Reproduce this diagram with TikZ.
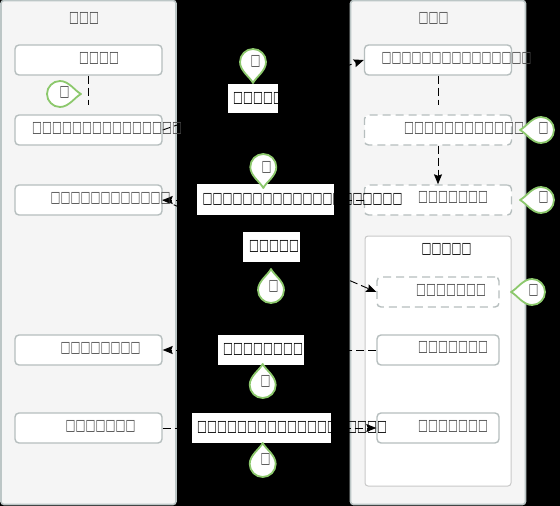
\documentclass[tikz,border=0pt]{standalone}
\usepackage{fontspec}
\usetikzlibrary{arrows.meta}
\newfontfamily\tofuf[FakeStretch=0.67,LetterSpace=0.8]{DejaVu Sans}
\definecolor{lanefill}{HTML}{F5F5F5}
\definecolor{lanedraw}{HTML}{BCC6C6}
\definecolor{boxdraw}{HTML}{B6BEBE}
\definecolor{groupdraw}{HTML}{C8C8C8}
\definecolor{pingreen}{HTML}{8CC86C}
\definecolor{boxtext}{HTML}{4A4A4A}
\tikzset{
  x=1pt,y=-1pt,
  lanebox/.style={draw=lanedraw,fill=lanefill,line width=1.6pt,rounded corners=3pt,minimum width=175pt,minimum height=504pt,inner sep=0pt},
  groupbox/.style={draw=groupdraw,fill=white,line width=1pt,rounded corners=3pt,minimum width=146pt,minimum height=250pt,inner sep=0pt},
  stepbox/.style={draw=boxdraw,fill=white,line width=1.4pt,rounded corners=4pt,minimum width=147pt,minimum height=30pt,inner sep=0pt},
  innerbox/.style={stepbox,minimum width=122pt},
  dashbox/.style={dash pattern=on 8pt off 5pt},
  tofu/.style={font=\tofuf\fontsize{15.6}{15.6}\selectfont,inner sep=0pt,anchor=west,text=boxtext,xshift=1pt,yshift=-1pt},
  tofublack/.style={tofu,text=black},
  labelbox/.style={fill=white,inner sep=0pt},
  flow/.style={draw=black,line width=0.9pt,dash pattern=on 8pt off 4pt},
  flowhead/.style={flow,-{Stealth[length=10pt,width=8pt,inset=1.5pt]}},
  droppin/.pic={
    \path[draw=pingreen,fill=white,line width=1.8pt,line join=round]
      (0,21) .. controls (-3,15) and (-13,9) .. (-13,0)
      arc[start angle=180,end angle=360,radius=13]
      .. controls (13,9) and (3,15) .. (0,21) -- cycle;
  },
  pinmark/.style={font=\tofuf\fontsize{15.6}{15.6}\selectfont,inner sep=0pt,text=boxtext,xshift=0.5pt,yshift=-1pt},
}
\begin{document}
\begin{tikzpicture}
\path[fill=black,use as bounding box] (0,0) rectangle (560,506);
% lanes
\node[lanebox] (laneL) at (88.5,252.5) {};
\node[lanebox] (laneR) at (438,252.5) {};
\node[groupbox] (grp) at (438,361) {};
% boxes
\node[stepbox] (l1) at (88.5,60) {};
\node[stepbox] (l2) at (88.5,130) {};
\node[stepbox] (l3) at (88.5,200) {};
\node[stepbox] (l4) at (88.5,350) {};
\node[stepbox] (l5) at (88.5,428) {};
\node[stepbox] (r1) at (438,60) {};
\node[stepbox,dashbox] (r2) at (438,130) {};
\node[stepbox,dashbox] (r3) at (438,200) {};
\node[innerbox,dashbox] (g1) at (438,292) {};
\node[innerbox] (g2) at (438,350) {};
\node[innerbox] (g3) at (438,428) {};
% connectors
\draw[flow,shorten >=9pt] (l1) -- (l2);
\draw[flow,shorten >=9pt] (r1) -- (r2);
\draw[flowhead] (r2) -- (r3);
\draw[flowhead] (l2.east) -- (r1.west);
\draw[flowhead] (r3.west) -- (l3.east);
\draw[flowhead] (l3.east) -- (g1.west);
\draw[flowhead] (g2.west) -- (l4.east);
\draw[flowhead] (l5.east) -- (g3.west);
% label backgrounds
\node[labelbox,minimum width=50pt,minimum height=29pt] (m1) at (253,98.5) {};
\node[labelbox,minimum width=137pt,minimum height=31pt] (m2) at (265.5,199.5) {};
\node[labelbox,minimum width=57pt,minimum height=30pt] (m3) at (271.5,247) {};
\node[labelbox,minimum width=86pt,minimum height=30pt] (m4) at (261,350) {};
\node[labelbox,minimum width=139pt,minimum height=30pt] (m5) at (261.5,428) {};
% box texts
\node[tofu] (tL) at (68,17) {□□□};
\node[tofu] (t1) at (78,57.5) {□□□□};
\node[tofu] (t2) at (31,127.5) {□□□□□□□□□□□□□□□};
\node[tofu] (t3) at (49.5,197.7) {□□□□□□□□□□□□};
\node[tofu] (t4) at (59.5,347.7) {□□□□□□□□};
\node[tofu] (t5) at (64.5,425.7) {□□□□□□□};
\node[tofu] (tR) at (417.5,17) {□□□};
\node[tofu] (t6) at (380.5,57.5) {□□□□□□□□□□□□□□□};
\node[tofu] (t7) at (403,127) {□□□□□□□□□□□□};
\node[tofu] (t8) at (417,196.7) {□□□□□□□};
\node[tofublack] (tG) at (420.5,248.7) {□□□□□};
\node[tofu] (t9) at (415,289) {□□□□□□□};
\node[tofu] (t10) at (417,346.7) {□□□□□□□};
\node[tofu] (t11) at (417,425) {□□□□□□□};
% label texts
\node[tofublack] (mt1) at (232,97.3) {□□□□□};
\node[tofublack] (mt2) at (201.5,198) {□□□□□□□□□□□□□□□□□□□□};
\node[tofublack] (mt3) at (248,245.7) {□□□□□};
\node[tofublack] (mt4) at (222,348) {□□□□□□□□};
\node[tofublack] (mt5) at (196,426.7) {□□□□□□□□□□□□□□□□□□□};
% pins
\pic at (253,62) {droppin};
\node[pinmark] (p1) at (255,60) {□};
\pic[rotate=90] at (60,94) {droppin};
\node[pinmark] (p2) at (64,91) {□};
\pic at (263.3,167) {droppin};
\node[pinmark] (p3) at (266,166) {□};
\pic[rotate=180] at (271,290) {droppin};
\node[pinmark] (p4) at (273,285) {□};
\pic[rotate=180] at (262.7,385) {droppin};
\node[pinmark] (p5) at (265,380) {□};
\pic[rotate=180] at (262.7,464) {droppin};
\node[pinmark] (p6) at (265,458) {□};
\pic[rotate=-90] at (541,130) {droppin};
\node[pinmark] (p7) at (543,127) {□};
\pic[rotate=-90] at (541,200) {droppin};
\node[pinmark] (p8) at (543,196) {□};
\pic[rotate=-90] at (532,292) {droppin};
\node[pinmark] (p9) at (533,289) {□};
\end{tikzpicture}
\end{document}
